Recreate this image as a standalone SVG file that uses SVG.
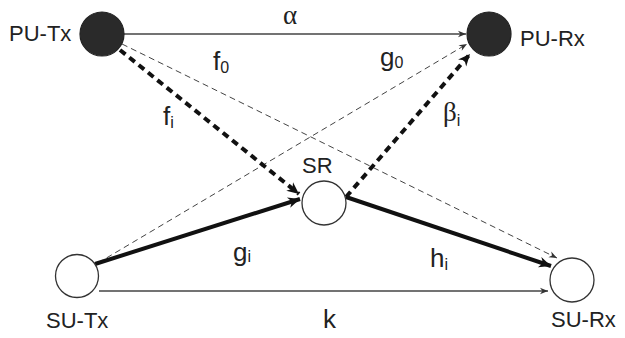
<svg xmlns="http://www.w3.org/2000/svg" width="625" height="338" viewBox="0 0 625 338">
<style>
.lbl{font-family:"Liberation Sans",Arial,sans-serif;font-size:22px;fill:#222}
.sym{font-family:"Liberation Sans",Arial,sans-serif;font-size:26px;fill:#222}
.grk{font-family:"Liberation Serif","Times New Roman",serif;font-size:27px;fill:#222}
.sub{font-family:"Liberation Sans",Arial,sans-serif;font-size:16px}
.pu{fill:#2a2a2a;stroke:#222;stroke-width:1.2}
.su{fill:#fff;stroke:#333;stroke-width:1.3}
.thin{stroke:#444;stroke-width:1.3;fill:none}
.dash{stroke:#444;stroke-width:1;fill:none;stroke-dasharray:6 4}
.thick{stroke:#111;stroke-width:4;fill:none}
.tdash{stroke:#111;stroke-width:4;fill:none;stroke-dasharray:7 5}
</style>
<defs>
<marker id="a" viewBox="0 0 10 10" refX="10" refY="5" markerWidth="10" markerHeight="8" markerUnits="userSpaceOnUse" orient="auto"><path d="M0,1 L10,5 L0,9 L3,5 Z" fill="#333"/></marker>
<marker id="b" viewBox="0 0 10 10" refX="10" refY="5" markerWidth="14" markerHeight="12" markerUnits="userSpaceOnUse" orient="auto"><path d="M0,0.5 L10,5 L0,9.5 L3,5 Z" fill="#111"/></marker>
</defs>
<g id="connectors">
<line class="thin" x1="124" y1="34" x2="466" y2="34" marker-end="url(#a)"/>
<line class="dash" x1="122" y1="44" x2="557" y2="258" marker-end="url(#a)"/>
<line class="dash" x1="98" y1="263" x2="467" y2="44" marker-end="url(#a)"/>
<line class="thin" x1="99" y1="291" x2="548" y2="291" marker-end="url(#a)"/>
<line class="tdash" x1="120" y1="50" x2="299" y2="194" marker-end="url(#b)"/>
<line class="tdash" x1="346" y1="197" x2="470" y2="54" marker-end="url(#b)"/>
<line class="thick" x1="95" y1="264" x2="300" y2="199" marker-end="url(#b)"/>
<line class="thick" x1="346" y1="197" x2="551" y2="266" marker-end="url(#b)"/>
</g>
<g id="pu-tx"><circle class="pu" cx="102" cy="34" r="22"/><text class="lbl" x="9" y="41">PU-Tx</text></g>
<g id="pu-rx"><circle class="pu" cx="489" cy="34" r="22"/><text class="lbl" x="520" y="46">PU-Rx</text></g>
<g id="sr"><circle class="su" cx="324" cy="203" r="22"/><text class="lbl" x="302" y="173">SR</text></g>
<g id="su-tx"><circle class="su" cx="77" cy="276" r="21.5"/><text class="lbl" x="46" y="328">SU-Tx</text></g>
<g id="su-rx"><circle class="su" cx="572" cy="280" r="22"/><text class="lbl" x="551" y="327">SU-Rx</text></g>
<g id="labels">
<text class="grk" x="283" y="24">α</text>
<text class="sym" x="213" y="70">f<tspan class="sub" dy="3">0</tspan></text>
<text class="sym" x="380" y="66">g<tspan class="sub" dy="2">0</tspan></text>
<text class="sym" x="163" y="125">f<tspan class="sub" dy="3">i</tspan></text>
<text class="grk" x="443" y="121">β<tspan class="sub" dy="5">i</tspan></text>
<text class="sym" x="233" y="261">g<tspan class="sub" dy="1">i</tspan></text>
<text class="sym" x="430" y="267">h<tspan class="sub" dy="3">i</tspan></text>
<text class="sym" x="323" y="328">k</text>
</g>
</svg>
